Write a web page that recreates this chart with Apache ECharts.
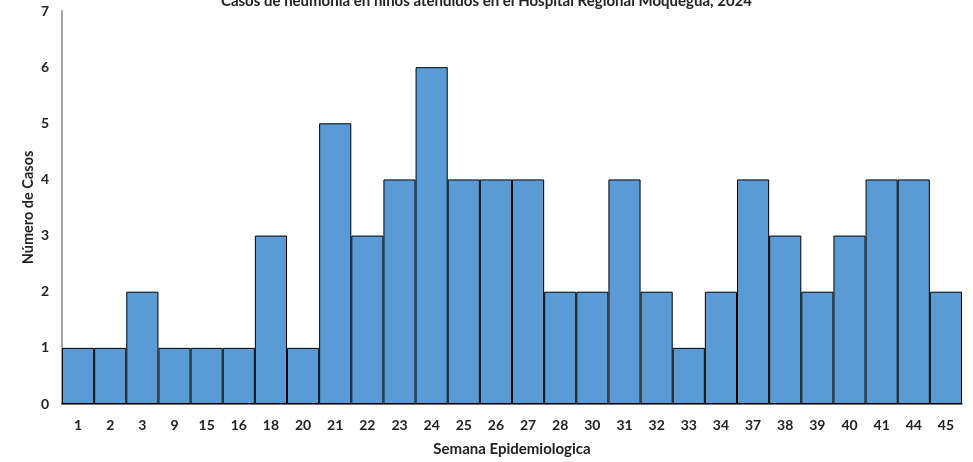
<!DOCTYPE html>
<html><head><meta charset="utf-8">
<script src="https://cdn.jsdelivr.net/npm/echarts@6/dist/echarts.min.js"></script>
<style>html,body{margin:0;padding:0;background:#fff}#c{width:973px;height:462px}</style>
</head><body><div id="c"></div>
<script>
const weeks = ['1','2','3','9','15','16','18','20','21','22','23','24','25','26','27','28','30','31','32','33','34','37','38','39','40','41','44','45'];
const cases = [1,1,2,1,1,1,3,1,5,3,4,6,4,4,4,2,2,4,2,1,2,4,3,2,3,4,4,2];
const yTicks = [0,1,2,3,4,5,6,7];
const titleText = 'Casos de neumonía en niños atendidos en el Hospital Regional Moquegua, 2024';
const font = 'Lato, "Open Sans", sans-serif';
const chart = echarts.init(document.getElementById('c'), null, {renderer:'canvas'});
chart.setOption({
  animation:false,
  title:{text:titleText,left:'center',top:-11,textStyle:{fontFamily:font,fontWeight:'bold',fontSize:15,color:'#222'}},
  grid:{left:62,right:11,top:11,bottom:52,containLabel:false},
  xAxis:{type:'category',data:weeks,name:'Semana Epidemiologica',nameLocation:'middle',nameGap:38,nameMoveOverlap:false,
    nameTextStyle:{fontFamily:font,fontWeight:'bold',fontSize:15,color:'#222'},
    axisLine:{lineStyle:{color:'#404040',width:1.5}},axisTick:{show:false},
    axisLabel:{fontFamily:font,fontWeight:'bold',fontSize:14,color:'#222',margin:14,interval:0}},
  yAxis:{type:'value',min:yTicks[0],max:yTicks[yTicks.length-1],interval:1,name:'Número de Casos',nameLocation:'middle',nameGap:26,nameMoveOverlap:false,
    nameTextStyle:{fontFamily:font,fontWeight:'bold',fontSize:14.5,color:'#222'},
    axisLine:{show:true,lineStyle:{color:'#a6a6a6',width:2}},axisTick:{show:false},splitLine:{show:false},
    axisLabel:{fontFamily:font,fontWeight:'bold',fontSize:14,color:'#222',margin:13}},
  series:[{type:'bar',data:cases,barCategoryGap:0,itemStyle:{color:'#5b9bd5',borderColor:'#000',borderWidth:1}}]
});
</script></body></html>
